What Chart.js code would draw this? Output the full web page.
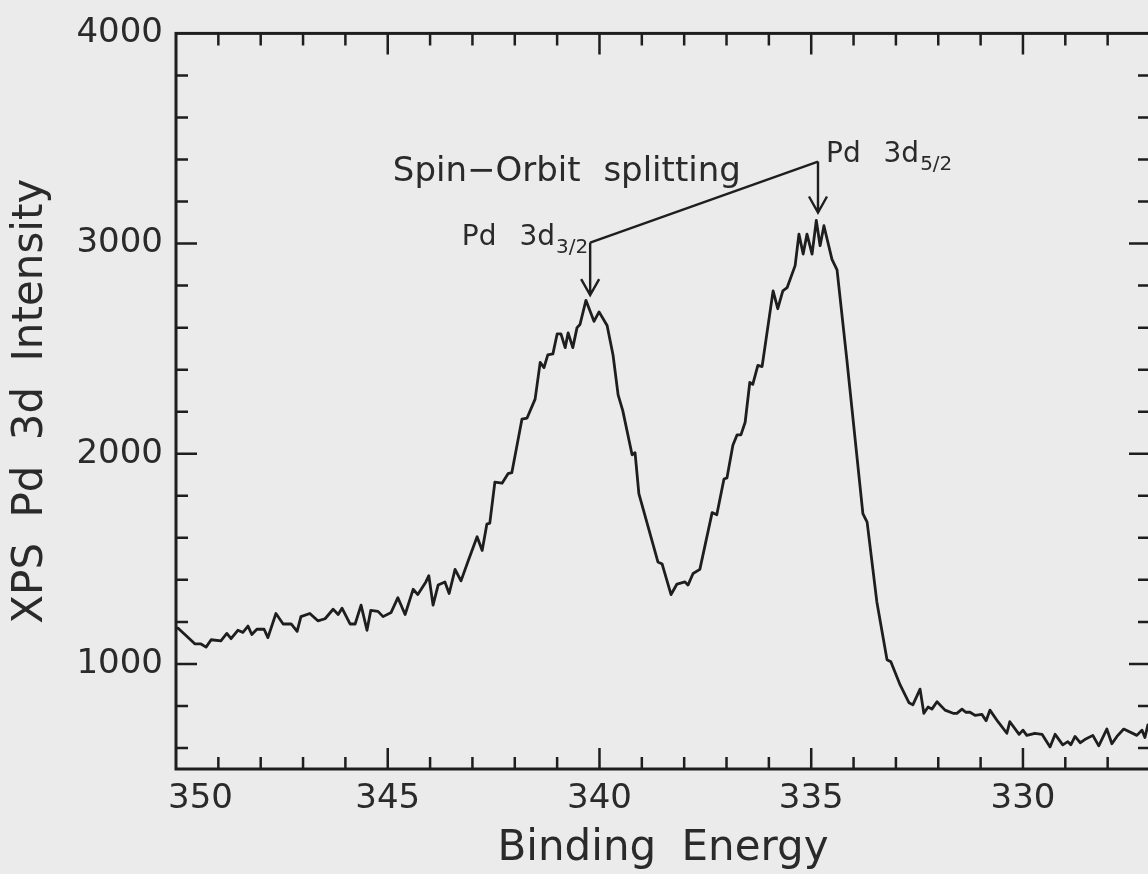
<!DOCTYPE html>
<html>
<head>
<meta charset="utf-8">
<title>XPS Pd 3d</title>
<script src="https://cdn.jsdelivr.net/npm/chart.js@4.4.1/dist/chart.umd.min.js"></script>
<style>
    html, body { margin: 0; padding: 0; background: #ebebeb; overflow: hidden; }
    canvas { display: block; }
</style>
</head>
<body>
<canvas id="xpsChart" width="1152" height="874"></canvas>
<script>
// Spectrum (binding energy in eV, counts)
const bindingEnergy = [
    350.00, 349.95, 349.79, 349.55, 349.41, 349.29, 349.17, 348.94, 348.80, 348.70,
    348.54, 348.42, 348.30, 348.21, 348.09, 347.92, 347.83, 347.64, 347.47, 347.28,
    347.14, 347.05, 346.84, 346.65, 346.48, 346.29, 346.17, 346.08, 345.89, 345.77,
    345.63, 345.49, 345.40, 345.23, 345.11, 344.92, 344.76, 344.59, 344.40, 344.29,
    344.10, 344.03, 343.93, 343.81, 343.65, 343.55, 343.41, 343.27, 343.11, 342.89,
    342.77, 342.66, 342.59, 342.47, 342.30, 342.16, 342.07, 341.83, 341.71, 341.52,
    341.40, 341.31, 341.22, 341.10, 341.00, 340.91, 340.81, 340.74, 340.63, 340.53,
    340.46, 340.32, 340.13, 340.01, 339.82, 339.68, 339.56, 339.45, 339.23, 339.16,
    339.07, 338.62, 338.52, 338.31, 338.17, 337.98, 337.91, 337.79, 337.63, 337.34,
    337.23, 337.06, 336.99, 336.85, 336.75, 336.66, 336.56, 336.45, 336.38, 336.26,
    336.16, 335.90, 335.79, 335.67, 335.57, 335.38, 335.29, 335.19, 335.10, 334.98,
    334.88, 334.79, 334.70, 334.51, 334.39, 334.16, 333.78, 333.68, 333.45, 333.21,
    333.12, 332.90, 332.69, 332.60, 332.43, 332.34, 332.24, 332.15, 332.03, 331.84,
    331.65, 331.56, 331.44, 331.35, 331.25, 331.13, 330.97, 330.87, 330.78, 330.59,
    330.38, 330.31, 330.09, 330.00, 329.91, 329.72, 329.55, 329.36, 329.24, 329.06,
    328.94, 328.87, 328.77, 328.65, 328.54, 328.35, 328.21, 328.02, 327.90, 327.78,
    327.62, 327.31, 327.19, 327.12, 327.05, 326.98
];
const intensity = [
    1170, 1170, 1140, 1095, 1095, 1080, 1115, 1110, 1145, 1120,
    1160, 1150, 1180, 1140, 1165, 1165, 1125, 1240, 1190, 1190,
    1155, 1225, 1240, 1205, 1215, 1260, 1235, 1265, 1190, 1190,
    1280, 1160, 1255, 1250, 1225, 1245, 1315, 1235, 1355, 1330,
    1390, 1420, 1280, 1375, 1390, 1335, 1450, 1395, 1485, 1605,
    1540, 1665, 1670, 1865, 1860, 1905, 1910, 2165, 2170, 2260,
    2435, 2410, 2470, 2475, 2570, 2570, 2505, 2575, 2505, 2600,
    2615, 2730, 2630, 2675, 2610, 2470, 2280, 2205, 1995, 2005,
    1810, 1485, 1475, 1330, 1380, 1390, 1375, 1430, 1450, 1720,
    1710, 1880, 1885, 2040, 2090, 2090, 2150, 2340, 2330, 2420,
    2415, 2775, 2690, 2775, 2790, 2895, 3045, 2950, 3045, 2950,
    3110, 2990, 3085, 2925, 2875, 2450, 1715, 1675, 1295, 1020,
    1010, 900, 815, 805, 880, 765, 795, 785, 820, 780,
    765, 765, 785, 770, 770, 755, 760, 730, 780, 725,
    670, 725, 665, 685, 660, 670, 665, 605, 665, 615,
    630, 615, 655, 625, 640, 660, 610, 690, 620, 655,
    690, 660, 685, 650, 710, 700
];

const xTickValues = [350, 345, 340, 335, 330];
const yTickValues = [1000, 2000, 3000, 4000];
const xRange = [327, 350];
const yRange = [500, 4000];

// annotation anchors, in data units
const splitText = 'Spin\u2212Orbit splitting';
const splitAnchor = { x: 344.88, y: 3300 };
const peakNames = ['Pd 3d', 'Pd 3d'];
const peakSubs = ['3/2', '5/2'];
const arrowEnergy = [340.22, 334.84];
const arrowTop = [3005, 3390];
const arrowTip = [2755, 3148];

const FONT = 'DejaVu Sans';
const INK = '#1e1e1e';

function drawArrow(ctx, x, y0, y1) {
    ctx.beginPath();
    ctx.moveTo(x, y0);
    ctx.lineTo(x, y1);
    ctx.moveTo(x - 9, y1 - 16);
    ctx.lineTo(x, y1);
    ctx.lineTo(x + 9, y1 - 16);
    ctx.stroke();
}

const framePlugin = {
    id: 'framePlugin',
    beforeDraw(chart) {
        const ctx = chart.ctx;
        ctx.save();
        ctx.fillStyle = '#ebebeb';
        ctx.fillRect(0, 0, chart.width, chart.height);
        ctx.restore();
        ctx.wordSpacing = '12px';
    },
    afterDraw(chart) {
        const { ctx, chartArea: a, scales: { x, y } } = chart;
        ctx.save();
        ctx.strokeStyle = INK;
        ctx.lineCap = 'butt';

        // inward ticks on all four sides
        ctx.lineWidth = 2.5;
        ctx.beginPath();
        for (let v = Math.ceil(x.min); v <= x.max; v++) {
            if (v === x.min || v === x.max) continue;
            const px = x.getPixelForValue(v);
            const len = v % 5 === 0 ? 21 : 12;
            ctx.moveTo(px, a.bottom); ctx.lineTo(px, a.bottom - len);
            ctx.moveTo(px, a.top); ctx.lineTo(px, a.top + len);
        }
        for (let v = Math.ceil(y.min / 200) * 200; v <= y.max; v += 200) {
            if (v === y.min || v === y.max) continue;
            const py = y.getPixelForValue(v);
            const len = v % 1000 === 0 ? 21 : 12;
            ctx.moveTo(a.left, py); ctx.lineTo(a.left + len, py);
            ctx.moveTo(a.right, py); ctx.lineTo(a.right - len, py);
        }
        ctx.stroke();

        ctx.lineWidth = 3;
        ctx.strokeRect(a.left, a.top, a.right - a.left, a.bottom - a.top);

        // x tick labels, first one kept clear of the left axis
        ctx.fillStyle = '#2a2a2a';
        ctx.font = '34px "' + FONT + '"';
        ctx.textAlign = 'center';
        ctx.textBaseline = 'alphabetic';
        xTickValues.forEach(v => {
            const txt = String(v);
            const w = ctx.measureText(txt).width;
            const px = Math.max(x.getPixelForValue(v), a.left - 8 + w / 2);
            ctx.fillText(txt, px, a.bottom + 39);
        });

        // spin-orbit annotation
        ctx.lineWidth = 2.4;
        ctx.lineJoin = 'miter';
        const lx = x.getPixelForValue(arrowEnergy[0]);
        const rx = x.getPixelForValue(arrowEnergy[1]);
        const ly = y.getPixelForValue(arrowTop[0]);
        const ry = y.getPixelForValue(arrowTop[1]);
        ctx.beginPath();
        ctx.moveTo(lx, ly);
        ctx.lineTo(rx, ry);
        ctx.stroke();
        drawArrow(ctx, lx, ly, y.getPixelForValue(arrowTip[0]));
        drawArrow(ctx, rx, ry, y.getPixelForValue(arrowTip[1]));

        ctx.textAlign = 'left';
        ctx.font = '34px "' + FONT + '"';
        ctx.fillText(splitText, x.getPixelForValue(splitAnchor.x), y.getPixelForValue(splitAnchor.y));

        ctx.wordSpacing = '14px';
        const mainFont = '28px "' + FONT + '"';
        const subFont = '20px "' + FONT + '"';
        // left peak label ends at the arrow
        ctx.font = subFont;
        const sub0 = ctx.measureText(peakSubs[0]).width;
        ctx.font = mainFont;
        const main0 = ctx.measureText(peakNames[0]).width;
        const startL = lx - 3 - sub0 - main0;
        ctx.fillText(peakNames[0], startL, ly + 2);
        ctx.font = subFont;
        ctx.fillText(peakSubs[0], startL + main0 + 1, ly + 10);
        // right peak label starts after the arrow
        ctx.font = mainFont;
        const main1 = ctx.measureText(peakNames[1]).width;
        ctx.fillText(peakNames[1], rx + 8, ry);
        ctx.font = subFont;
        ctx.fillText(peakSubs[1], rx + 8 + main1 + 1, ry + 8);

        ctx.restore();
    }
};

const points = bindingEnergy.map((e, i) => ({ x: e, y: intensity[i] }));

new Chart(document.getElementById('xpsChart'), {
    type: 'scatter',
    data: {
        datasets: [{
            label: 'Pd 3d',
            data: points,
            showLine: true,
            borderColor: INK,
            borderWidth: 2.8,
            borderJoinStyle: 'round',
            pointRadius: 0,
            tension: 0
        }]
    },
    options: {
        responsive: false,
        animation: false,
        layout: { padding: { top: 30, right: 2, left: 0, bottom: 0 } },
        plugins: {
            legend: { display: false },
            tooltip: { enabled: false }
        },
        scales: {
            x: {
                type: 'linear',
                reverse: true,
                min: xRange[0],
                max: xRange[1],
                grid: { display: false },
                border: { display: false },
                ticks: { display: false, stepSize: 5 },
                title: {
                    display: true,
                    text: 'Binding Energy',
                    color: '#2a2a2a',
                    font: { family: FONT, size: 42 },
                    padding: { top: 0, bottom: 0 }
                },
                afterFit(scale) { scale.height = 105; }
            },
            y: {
                type: 'linear',
                min: yRange[0],
                max: yRange[1],
                grid: { display: false, drawTicks: false },
                border: { display: false },
                ticks: {
                    padding: 13,
                    color: '#2a2a2a',
                    font: { family: FONT, size: 34 },
                    callback: v => String(v)
                },
                afterBuildTicks(scale) {
                    scale.ticks = yTickValues.map(v => ({ value: v }));
                },
                title: {
                    display: true,
                    text: 'XPS Pd 3d Intensity',
                    color: '#2a2a2a',
                    font: { family: FONT, size: 42 },
                    padding: { top: 6, bottom: 0 }
                },
                afterFit(scale) { scale.width = 176; }
            }
        }
    },
    plugins: [framePlugin]
});
</script>
</body>
</html>
